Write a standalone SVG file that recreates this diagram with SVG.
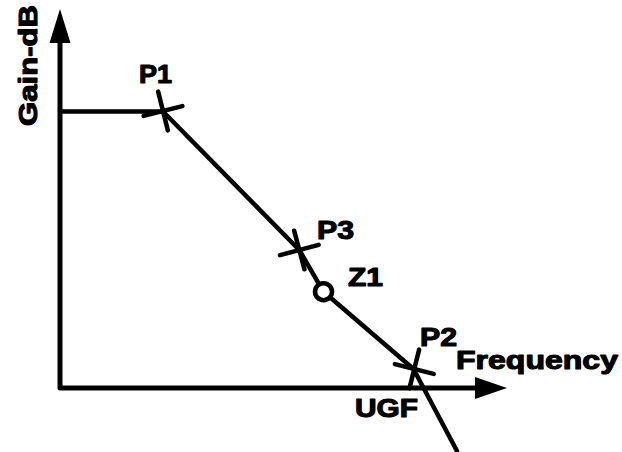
<svg xmlns="http://www.w3.org/2000/svg" xmlns:xlink="http://www.w3.org/1999/xlink" width="622" height="452" viewBox="0 0 622 452">
<style>
.ln{fill:none;stroke:#000;stroke-width:4.5;stroke-linecap:round;stroke-linejoin:round}
.ax{fill:none;stroke:#000;stroke-width:5;stroke-linejoin:round}
.ah{fill:#000}
.t{font-family:"Liberation Sans",Arial,sans-serif;font-weight:bold;font-size:25px;fill:#000;stroke:#000;stroke-width:1.1;stroke-linejoin:round}
</style>
<defs>
<path id="cross" class="ln" d="M-20,0 H20 M0,-20 V20"/>
</defs>
<rect width="622" height="452" fill="#fff"/>
<g id="axes">
<path class="ax" d="M60,40 V388 H477"/>
<polygon class="ah" points="60,9 49.5,43 70.5,43"/>
<polygon class="ah" points="507,388 475,377 475,399"/>
<text class="t" transform="translate(36.5,126) rotate(-90)" font-size="30" textLength="121" lengthAdjust="spacingAndGlyphs">Gain-dB</text>
<text class="t" x="456" y="369" textLength="162" lengthAdjust="spacingAndGlyphs">Frequency</text>
</g>
<g id="connectors">
<polyline class="ln" points="60,111.5 163,111.5 299.3,250 319.2,284.4"/>
<polyline class="ln" points="330,297.2 413.5,369 457,451"/>
</g>
<g id="P1">
<use xlink:href="#cross" href="#cross" transform="translate(163,111) rotate(-14)"/>
<text class="t" x="139" y="83" textLength="33" lengthAdjust="spacingAndGlyphs">P1</text>
</g>
<g id="P3">
<use xlink:href="#cross" href="#cross" transform="translate(299.3,250) rotate(-15)"/>
<text class="t" x="317" y="239" textLength="37" lengthAdjust="spacingAndGlyphs">P3</text>
</g>
<g id="Z1">
<circle cx="323.5" cy="291.7" r="8.5" fill="#fff" stroke="#000" stroke-width="4.5"/>
<text class="t" x="348" y="285.5" textLength="35" lengthAdjust="spacingAndGlyphs">Z1</text>
</g>
<g id="P2">
<use xlink:href="#cross" href="#cross" transform="translate(414.3,369) rotate(14)"/>
<text class="t" x="420" y="345.5" textLength="37" lengthAdjust="spacingAndGlyphs">P2</text>
</g>
<g id="UGF">
<text class="t" x="355" y="417" textLength="63" lengthAdjust="spacingAndGlyphs">UGF</text>
</g>
</svg>
